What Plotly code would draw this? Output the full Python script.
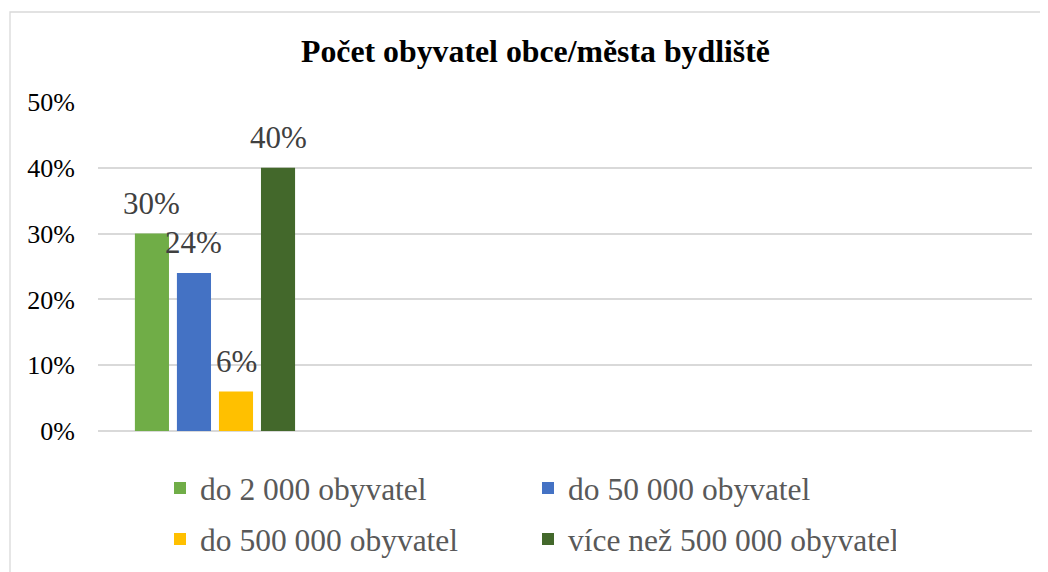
import plotly.graph_objects as go

# ---- data ----
series_names = ["do 2 000 obyvatel", "do 50 000 obyvatel", "do 500 000 obyvatel", "více než 500 000 obyvatel"]
series_values = [0.30, 0.24, 0.06, 0.40]
series_colors = ["#70AD47", "#4472C4", "#FFC000", "#43682B"]
y_tickvals = [0.0, 0.1, 0.2, 0.3, 0.4, 0.5]
y_ticktext = ["0%", "10%", "20%", "30%", "40%", "50%"]
title_text = "Počet obyvatel obce/města bydliště"

# ---- style constants ----
FONT = "Liberation Serif, Times New Roman, serif"
BAR_W = 0.146
STEP = 0.18
FIRST_OFF = -0.342
# page body has an 8px margin, so the figure is drawn 8px smaller and shifted
W, H = 1040, 564
L, R, T, B = 90, 16, 94, 141

fig = go.Figure()
annotations = []
for i, (name, val, col) in enumerate(zip(series_names, series_values, series_colors)):
    off = FIRST_OFF + i * STEP
    fig.add_trace(go.Bar(
        x=[0], y=[val], name=name, width=[BAR_W], offset=[off],
        marker=dict(color=col, line=dict(width=0)),
        legend="legend" if i < 2 else "legend2",
        hovertemplate="%{y:.0%}<extra>" + name + "</extra>",
    ))
    annotations.append(dict(
        x=0 + off + BAR_W / 2, y=val, xref="x", yref="y",
        text=f"{val:.0%}", showarrow=False, yanchor="bottom", xanchor="center",
        yshift=11, font=dict(family=FONT, size=31, color="#404040"),
    ))

pw = W - L - R
ph = H - T - B
fig.add_shape(type="rect", xref="paper", yref="paper",
              x0=(2 - L) / pw, x1=(W + 40 - L) / pw,
              y0=-(B + 40) / ph, y1=((H - B) - 4) / ph,
              line=dict(color="#D9D9D9", width=1.3), fillcolor="rgba(0,0,0,0)", layer="below")

legend_common = dict(orientation="h", x=(152 - L) / pw, xanchor="left", xref="paper",
                     yref="container", yanchor="middle",
                     entrywidth=323, entrywidthmode="pixels",
                     font=dict(family=FONT, size=31.5, color="#595959"),
                     bgcolor="rgba(0,0,0,0)", borderwidth=0)

fig.update_layout(
    width=W, height=H,
    margin=dict(l=L, r=R, t=T, b=B, pad=0),
    paper_bgcolor="white", plot_bgcolor="white",
    barmode="overlay",
    title=dict(text=title_text, x=527.5 / W, xref="container", xanchor="center",
               y=1 - 43 / H, yref="container", yanchor="middle",
               font=dict(family=FONT, size=31.8, color="#000000", weight="bold")),
    xaxis=dict(range=[-0.5, 3.5], showticklabels=False, showgrid=False, zeroline=False,
               showline=False, fixedrange=True),
    yaxis=dict(range=[0, 0.5], tickvals=y_tickvals, ticktext=y_ticktext,
               showgrid=True, gridcolor="#D9D9D9", gridwidth=1.5,
               zeroline=True, zerolinecolor="#D9D9D9", zerolinewidth=1.5,
               showline=False, ticks="", ticklabelstandoff=22,
               tickfont=dict(family=FONT, size=26, color="#000000")),
    showlegend=True,
    legend=dict(legend_common, y=1 - 480 / H),
    legend2=dict(legend_common, y=1 - 531 / H),
    annotations=annotations,
)

fig.write_html("out.html")
